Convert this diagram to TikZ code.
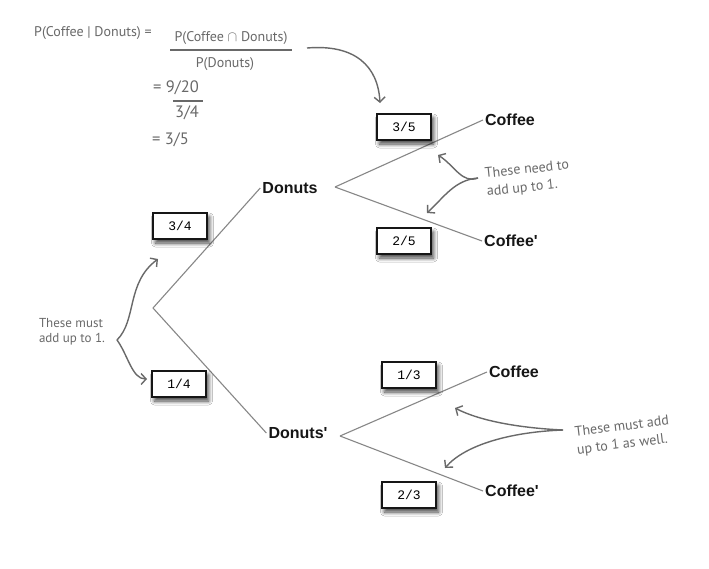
\documentclass[tikz,border=0pt]{standalone}
\usepackage{fontspec}
\newfontfamily\labelfont{Liberation Sans}
\newfontfamily\boxfont{Liberation Mono}
\newfontfamily\handfont{PT Sans}
\usetikzlibrary{arrows.meta,shadows.blur}
\definecolor{hand}{RGB}{105,105,105}
\definecolor{branch}{RGB}{135,135,135}
\definecolor{ink}{RGB}{22,22,22}
\tikzset{
  lbl/.style={font=\labelfont\bfseries\fontsize{16}{18}\selectfont, text=ink, inner sep=2pt},
  probbox/.style={draw=ink, fill=white, line width=1.9pt, minimum width=54pt, minimum height=26pt,
    inner sep=0pt, font=\boxfont\fontsize{13}{15}\selectfont,
    blur shadow={shadow xshift=2.5pt, shadow yshift=-4pt, shadow blur radius=4pt, shadow blur steps=8, shadow opacity=75}},
  thinbox/.style={probbox, line width=1.2pt},
  branchline/.style={draw=branch, line width=1.1pt},
  note/.style={font=\handfont\fontsize{13}{15}\selectfont, text=hand, align=left, inner sep=0pt},
  rnote/.style={note, font=\handfont\fontsize{14}{18}\selectfont},
  formula/.style={font=\handfont\fontsize{14}{16}\selectfont, text=hand, inner sep=0pt},
  bigformula/.style={formula, font=\handfont\fontsize{16.5}{18}\selectfont},
  fracline/.style={draw=hand, line width=1.1pt},
  notearrow/.style={draw=hand, line width=1.4pt, -{Straight Barb[length=5pt,width=11pt]}},
}
\begin{document}
\begin{tikzpicture}[x=1pt,y=-1pt]
\useasboundingbox (0,0) rectangle (709,568);
\fill[white] (0,0) rectangle (709,568);

% tree
\coordinate (root) at (153,308);
\node[lbl] (d) at (290,188) {Donuts};
\node[lbl] (dp) at (298,433) {Donuts\textquotesingle};
\coordinate (db) at (335,187);
\coordinate (dpb) at (340,436);
\node[lbl] (c1) at (510,120) {Coffee};
\node[lbl] (c2) at (511,241) {Coffee\textquotesingle};
\node[lbl] (c3) at (514,372) {Coffee};
\node[lbl] (c4) at (512,491) {Coffee\textquotesingle};

\draw[branchline] (root) -- (d.west);
\draw[branchline] (root) -- (dp.west);
\draw[branchline] (db) -- (c1.west);
\draw[branchline] (db) -- (c2.west);
\draw[branchline] (dpb) -- (c3.west);
\draw[branchline] (dpb) -- (c4.west);

% probability boxes
\node[probbox] (b34) at (180,226) {3/4};
\node[thinbox] (b14) at (179,384) {1/4};
\node[probbox] (b35) at (404,127) {3/5};
\node[thinbox] (b25) at (404,241) {2/5};
\node[probbox] (b13) at (409,375) {1/3};
\node[probbox] (b23) at (409,495) {2/3};

% formula
\node[formula, anchor=west] (f1) at (34,33) {P(Coffee | Donuts) =};
\node[formula] (fn) at (231,38) {P(Coffee $\cap$ Donuts)};
\draw[fracline] (170,50) -- (292,50);
\node[formula] (fd) at (225,64) {P(Donuts)};
\node[bigformula, anchor=west] (f2) at (153,88) {= 9/20};
\draw[fracline] (173,101) -- (203,101);
\node[bigformula] (f3) at (187,113) {3/4};
\node[bigformula, anchor=west] (f4) at (152,140) {= 3/5};

\coordinate (fa) at (307,48);
\coordinate (fe) at (380,103);
\draw[notearrow] (fa) .. controls (355,44) and (378,66) .. (fe);

% notes
\node[rnote, rotate=6] (n1) at (528,179) {These need to\\add up to 1.};
\coordinate (n1a) at (478,178);
\coordinate (n1u) at (438,155);
\coordinate (n1d) at (427,213);
\draw[notearrow] (n1a) .. controls (462,184) and (455,166) .. (n1u);
\draw[notearrow] (n1a) .. controls (455,180) and (445,196) .. (n1d);

\node[note] (n2) at (72,332) {These must\\add up to 1.};
\coordinate (n2a) at (117,340);
\coordinate (n2u) at (158,259);
\coordinate (n2d) at (147,379);
\draw[notearrow] (n2a) .. controls (137,320) and (126,283) .. (n2u);
\draw[notearrow] (n2a) .. controls (128,355) and (132,379) .. (n2d);

\node[rnote, rotate=7] (n3) at (623,436) {These must add\\up to 1 as well.};
\coordinate (n3a) at (563,430);
\coordinate (n3u) at (455,408);
\coordinate (n3d) at (445,468);
\draw[notearrow] (n3a) .. controls (520,428) and (480,421) .. (n3u);
\draw[notearrow] (n3a) .. controls (510,432) and (465,445) .. (n3d);
\end{tikzpicture}
\end{document}
